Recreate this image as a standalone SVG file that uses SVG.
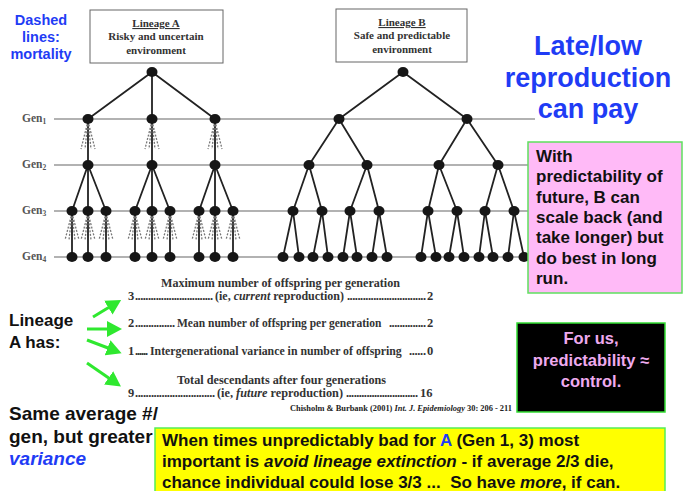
<svg xmlns="http://www.w3.org/2000/svg" width="687" height="491" viewBox="0 0 687 491">
<style>
.bg{fill:#fff}
.gl{stroke:#999;stroke-width:1.5}
.e{stroke:#222;stroke-width:1.8;fill:none}
.d{stroke:#777;stroke-width:1.3;stroke-dasharray:2 1.5;fill:none}
.n{fill:#161616}
.lbox{fill:#fff;stroke:#666;stroke-width:1}
.ser{font-family:"Liberation Serif","Times New Roman",serif;font-weight:bold;fill:#333}
.gen{font-family:"Liberation Serif","Times New Roman",serif;font-weight:bold;fill:#555;font-size:11.5px}
.sans{font-family:"Liberation Sans",Arial,sans-serif;font-weight:bold}
.blue{fill:#1f3cf5}
.arr{stroke:#2fe82f;stroke-width:3;fill:none}
</style>
<defs>
<marker id="ah" markerWidth="6" markerHeight="6" refX="3" refY="3" orient="auto" markerUnits="strokeWidth">
<path d="M0,0.3 L5,3 L0,5.7 Z" fill="#2fe82f"/>
</marker>
</defs>
<rect class="bg" x="0" y="0" width="687" height="491"/>

<!-- generation lines -->
<g id="gen-lines">
<line class="gl" x1="54" y1="119" x2="535" y2="119"/>
<line class="gl" x1="54" y1="165" x2="530" y2="165"/>
<line class="gl" x1="54" y1="211" x2="530" y2="211"/>
<line class="gl" x1="54" y1="257" x2="530" y2="257"/>
<text class="gen" x="22" y="122">Gen<tspan font-size="7.5" dy="2">1</tspan></text>
<text class="gen" x="22" y="168">Gen<tspan font-size="7.5" dy="2">2</tspan></text>
<text class="gen" x="22" y="214">Gen<tspan font-size="7.5" dy="2">3</tspan></text>
<text class="gen" x="22" y="260">Gen<tspan font-size="7.5" dy="2">4</tspan></text>
</g>

<!-- lineage boxes -->
<g id="box-a">
<rect class="lbox" x="90" y="10" width="133" height="53"/>
<text class="ser" font-size="11" x="156" y="27" text-anchor="middle" text-decoration="underline">Lineage A</text>
<text class="ser" font-size="11" x="156" y="40" text-anchor="middle">Risky and uncertain</text>
<text class="ser" font-size="11" x="156" y="54" text-anchor="middle">environment</text>
</g>
<g id="box-b">
<rect class="lbox" x="336" y="9" width="131" height="53"/>
<text class="ser" font-size="11" x="402" y="26" text-anchor="middle" text-decoration="underline">Lineage B</text>
<text class="ser" font-size="11" x="402" y="39" text-anchor="middle">Safe and predictable</text>
<text class="ser" font-size="11" x="402" y="53" text-anchor="middle">environment</text>
</g>

<!-- connectors -->
<g id="connectors">
<path class="e" d="M152,72 L88,119 M152,72 L152,119 M152,72 L215,119
M88,119 L88,165 M152,119 L152,165 M215,119 L215,165
M88,165 L72,211 M88,165 L88,211 M88,165 L106,211
M152,165 L135,211 M152,165 L152,211 M152,165 L170,211
M215,165 L199,211 M215,165 L215,211 M215,165 L233,211
M72,211 L72,257 M88,211 L88,257 M106,211 L106,257
M135,211 L135,257 M152,211 L152,257 M170,211 L170,257
M199,211 L199,257 M215,211 L215,257 M233,211 L233,257"/>
<path class="d" d="M88,121 L81,149 M88,121 L85,149 M88,121 L91,149 M88,121 L95,149
M152,121 L145,149 M152,121 L149,149 M152,121 L155,149 M152,121 L159,149
M215,121 L208,149 M215,121 L212,149 M215,121 L218,149 M215,121 L222,149
M72,213 L65,240 M72,213 L69,240 M72,213 L75,240 M72,213 L79,240
M88,213 L81,240 M88,213 L85,240 M88,213 L91,240 M88,213 L95,240
M106,213 L99,240 M106,213 L103,240 M106,213 L109,240 M106,213 L113,240
M135,213 L128,240 M135,213 L132,240 M135,213 L138,240 M135,213 L142,240
M152,213 L145,240 M152,213 L149,240 M152,213 L155,240 M152,213 L159,240
M170,213 L163,240 M170,213 L167,240 M170,213 L173,240 M170,213 L177,240
M199,213 L192,240 M199,213 L196,240 M199,213 L202,240 M199,213 L206,240
M215,213 L208,240 M215,213 L212,240 M215,213 L218,240 M215,213 L222,240
M233,213 L226,240 M233,213 L230,240 M233,213 L236,240 M233,213 L240,240"/>
<path class="e" d="M403,72 L339,119 M403,72 L467,119
M339,119 L309,165 M339,119 L367,165 M467,119 L439,165 M467,119 L498,165
M309,165 L293,211 M309,165 L322,211 M367,165 L350,211 M367,165 L379,211
M439,165 L428,211 M439,165 L457,211 M498,165 L485,211 M498,165 L514,211
M293,211 L283,257 M293,211 L299,257 M322,211 L313,257 M322,211 L328,257
M350,211 L343,257 M350,211 L357,257 M379,211 L372,257 M379,211 L387,257
M428,211 L421,257 M428,211 L436,257 M457,211 L449,257 M457,211 L464,257
M485,211 L479,257 M485,211 L493,257 M514,211 L508,257 M514,211 L524,257"/>
<line class="arr" x1="93" y1="317" x2="116" y2="303" marker-end="url(#ah)"/>
<line class="arr" x1="87" y1="329" x2="116" y2="329" marker-end="url(#ah)"/>
<line class="arr" x1="87" y1="340" x2="116" y2="351" marker-end="url(#ah)"/>
<line class="arr" x1="87" y1="363" x2="116" y2="383" marker-end="url(#ah)"/>
</g>

<!-- Lineage A nodes -->
<g id="a0"><ellipse class="n" cx="152" cy="72" rx="5.5" ry="5"/></g>
<g id="a1-1"><ellipse class="n" cx="88" cy="119" rx="5.5" ry="5"/></g>
<g id="a1-2"><ellipse class="n" cx="152" cy="119" rx="5.5" ry="5"/></g>
<g id="a1-3"><ellipse class="n" cx="215" cy="119" rx="5.5" ry="5"/></g>
<g id="a2-1"><ellipse class="n" cx="88" cy="165" rx="5.5" ry="5"/></g>
<g id="a2-2"><ellipse class="n" cx="152" cy="165" rx="5.5" ry="5"/></g>
<g id="a2-3"><ellipse class="n" cx="215" cy="165" rx="5.5" ry="5"/></g>
<g id="a3-1"><ellipse class="n" cx="72" cy="211" rx="5.5" ry="5"/></g>
<g id="a3-2"><ellipse class="n" cx="88" cy="211" rx="5.5" ry="5"/></g>
<g id="a3-3"><ellipse class="n" cx="106" cy="211" rx="5.5" ry="5"/></g>
<g id="a3-4"><ellipse class="n" cx="135" cy="211" rx="5.5" ry="5"/></g>
<g id="a3-5"><ellipse class="n" cx="152" cy="211" rx="5.5" ry="5"/></g>
<g id="a3-6"><ellipse class="n" cx="170" cy="211" rx="5.5" ry="5"/></g>
<g id="a3-7"><ellipse class="n" cx="199" cy="211" rx="5.5" ry="5"/></g>
<g id="a3-8"><ellipse class="n" cx="215" cy="211" rx="5.5" ry="5"/></g>
<g id="a3-9"><ellipse class="n" cx="233" cy="211" rx="5.5" ry="5"/></g>
<g id="a4-1"><ellipse class="n" cx="72" cy="257" rx="5.5" ry="5"/></g>
<g id="a4-2"><ellipse class="n" cx="88" cy="257" rx="5.5" ry="5"/></g>
<g id="a4-3"><ellipse class="n" cx="106" cy="257" rx="5.5" ry="5"/></g>
<g id="a4-4"><ellipse class="n" cx="135" cy="257" rx="5.5" ry="5"/></g>
<g id="a4-5"><ellipse class="n" cx="152" cy="257" rx="5.5" ry="5"/></g>
<g id="a4-6"><ellipse class="n" cx="170" cy="257" rx="5.5" ry="5"/></g>
<g id="a4-7"><ellipse class="n" cx="199" cy="257" rx="5.5" ry="5"/></g>
<g id="a4-8"><ellipse class="n" cx="215" cy="257" rx="5.5" ry="5"/></g>
<g id="a4-9"><ellipse class="n" cx="233" cy="257" rx="5.5" ry="5"/></g>

<!-- Lineage B nodes -->
<g id="b0"><ellipse class="n" cx="403" cy="72" rx="5.5" ry="5"/></g>
<g id="b1-1"><ellipse class="n" cx="339" cy="119" rx="5.5" ry="5"/></g>
<g id="b1-2"><ellipse class="n" cx="467" cy="119" rx="5.5" ry="5"/></g>
<g id="b2-1"><ellipse class="n" cx="309" cy="165" rx="5.5" ry="5"/></g>
<g id="b2-2"><ellipse class="n" cx="367" cy="165" rx="5.5" ry="5"/></g>
<g id="b2-3"><ellipse class="n" cx="439" cy="165" rx="5.5" ry="5"/></g>
<g id="b2-4"><ellipse class="n" cx="498" cy="165" rx="5.5" ry="5"/></g>
<g id="b3-1"><ellipse class="n" cx="293" cy="211" rx="5.5" ry="5"/></g>
<g id="b3-2"><ellipse class="n" cx="322" cy="211" rx="5.5" ry="5"/></g>
<g id="b3-3"><ellipse class="n" cx="350" cy="211" rx="5.5" ry="5"/></g>
<g id="b3-4"><ellipse class="n" cx="379" cy="211" rx="5.5" ry="5"/></g>
<g id="b3-5"><ellipse class="n" cx="428" cy="211" rx="5.5" ry="5"/></g>
<g id="b3-6"><ellipse class="n" cx="457" cy="211" rx="5.5" ry="5"/></g>
<g id="b3-7"><ellipse class="n" cx="485" cy="211" rx="5.5" ry="5"/></g>
<g id="b3-8"><ellipse class="n" cx="514" cy="211" rx="5.5" ry="5"/></g>
<g id="b4-1"><ellipse class="n" cx="283" cy="257" rx="5.5" ry="5"/></g>
<g id="b4-2"><ellipse class="n" cx="299" cy="257" rx="5.5" ry="5"/></g>
<g id="b4-3"><ellipse class="n" cx="313" cy="257" rx="5.5" ry="5"/></g>
<g id="b4-4"><ellipse class="n" cx="328" cy="257" rx="5.5" ry="5"/></g>
<g id="b4-5"><ellipse class="n" cx="343" cy="257" rx="5.5" ry="5"/></g>
<g id="b4-6"><ellipse class="n" cx="357" cy="257" rx="5.5" ry="5"/></g>
<g id="b4-7"><ellipse class="n" cx="372" cy="257" rx="5.5" ry="5"/></g>
<g id="b4-8"><ellipse class="n" cx="387" cy="257" rx="5.5" ry="5"/></g>
<g id="b4-9"><ellipse class="n" cx="421" cy="257" rx="5.5" ry="5"/></g>
<g id="b4-10"><ellipse class="n" cx="436" cy="257" rx="5.5" ry="5"/></g>
<g id="b4-11"><ellipse class="n" cx="449" cy="257" rx="5.5" ry="5"/></g>
<g id="b4-12"><ellipse class="n" cx="464" cy="257" rx="5.5" ry="5"/></g>
<g id="b4-13"><ellipse class="n" cx="479" cy="257" rx="5.5" ry="5"/></g>
<g id="b4-14"><ellipse class="n" cx="493" cy="257" rx="5.5" ry="5"/></g>
<g id="b4-15"><ellipse class="n" cx="508" cy="257" rx="5.5" ry="5"/></g>
<g id="b4-16"><ellipse class="n" cx="524" cy="257" rx="5.5" ry="5"/></g>

<!-- table -->
<g id="table" class="ser" font-size="12.5">
<text x="280.5" y="287" text-anchor="middle" textLength="239" lengthAdjust="spacingAndGlyphs">Maximum number of offspring per generation</text>
<text y="300"><tspan x="128">3</tspan><tspan x="135" textLength="78" lengthAdjust="spacing">..............................</tspan><tspan x="215" textLength="129" lengthAdjust="spacingAndGlyphs">(ie, <tspan font-style="italic">current</tspan> reproduction)</tspan><tspan x="347" textLength="79" lengthAdjust="spacing">..............................</tspan><tspan x="427">2</tspan></text>
<text y="327"><tspan x="128">2</tspan><tspan x="135" textLength="40" lengthAdjust="spacing">...............</tspan><tspan x="177" font-size="11.5">Mean number of offspring per generation</tspan><tspan x="389" textLength="37" lengthAdjust="spacing">..............</tspan><tspan x="427">2</tspan></text>
<text y="355"><tspan x="128">1</tspan><tspan x="135" textLength="13" lengthAdjust="spacing">......</tspan><tspan x="150" font-size="11.8">Intergenerational variance in number of offspring</tspan><tspan x="409" textLength="17" lengthAdjust="spacing">......</tspan><tspan x="427">0</tspan></text>
<text x="281.5" y="384" text-anchor="middle" textLength="209" lengthAdjust="spacingAndGlyphs">Total descendants after four generations</text>
<text y="397"><tspan x="128">9</tspan><tspan x="135" textLength="80" lengthAdjust="spacing">..............................</tspan><tspan x="217" textLength="126" lengthAdjust="spacingAndGlyphs">(ie, <tspan font-style="italic">future</tspan> reproduction)</tspan><tspan x="346" textLength="72" lengthAdjust="spacing">............................</tspan><tspan x="420">16</tspan></text>
<text x="290" y="411" font-size="8" fill="#222" textLength="222" lengthAdjust="spacingAndGlyphs">Chisholm &amp; Burbank (2001) <tspan font-style="italic">Int. J. Epidemiology</tspan> 30: 206 - 211</text>
</g>

<!-- annotations -->
<g id="dashed-note" class="sans blue" font-size="14.5" text-anchor="middle">
<text x="41" y="25">Dashed</text>
<text x="41" y="42">lines:</text>
<text x="41" y="59">mortality</text>
</g>
<g id="late-low" class="sans blue" font-size="27" text-anchor="middle">
<text x="588" y="55">Late/low</text>
<text x="588" y="87">reproduction</text>
<text x="588" y="118">can pay</text>
</g>
<g id="pink-box">
<rect x="528" y="142" width="154" height="151" fill="#ffbaf7" stroke="#5fe05f" stroke-width="1.5"/>
<g class="sans" font-size="17" fill="#111">
<text x="536" y="162">With</text>
<text x="536" y="182">predictability of</text>
<text x="536" y="203">future, B can</text>
<text x="536" y="223">scale back (and</text>
<text x="536" y="243">take longer) but</text>
<text x="536" y="264">do best in long</text>
<text x="536" y="284">run.</text>
</g>
</g>
<g id="black-box">
<rect x="517" y="323" width="148" height="89" fill="#000" stroke="#33dd33" stroke-width="1.5"/>
<g class="sans" font-size="16.5" fill="#eeaaee" text-anchor="middle">
<text x="591" y="344">For us,</text>
<text x="591" y="366">predictability ≈</text>
<text x="591" y="387">control.</text>
</g>
</g>
<g id="lineage-a-has" class="sans" font-size="17" fill="#111">
<text x="9" y="326">Lineage</text>
<text x="9" y="348">A has:</text>
</g>
<g id="same-average" class="sans" font-size="19" fill="#111">
<text x="9" y="420">Same average #/</text>
<text x="9" y="443">gen, but greater</text>
<text x="9" y="465" font-style="italic" class="blue">variance</text>
</g>
<g id="yellow-box">
<rect x="155" y="428" width="510" height="70" fill="#ffff00" stroke="#55ee55" stroke-width="1.5"/>
<g class="sans" font-size="17" fill="#111">
<text x="162" y="446">When times unpredictably bad for <tspan class="blue">A</tspan> (Gen 1, 3) most</text>
<text x="162" y="467">important is <tspan font-style="italic">avoid lineage extinction</tspan> - if average 2/3 die,</text>
<text x="162" y="488" xml:space="preserve">chance individual could lose 3/3 ...  So have <tspan font-style="italic">more</tspan>, if can.</text>
</g>
</g>
</svg>
